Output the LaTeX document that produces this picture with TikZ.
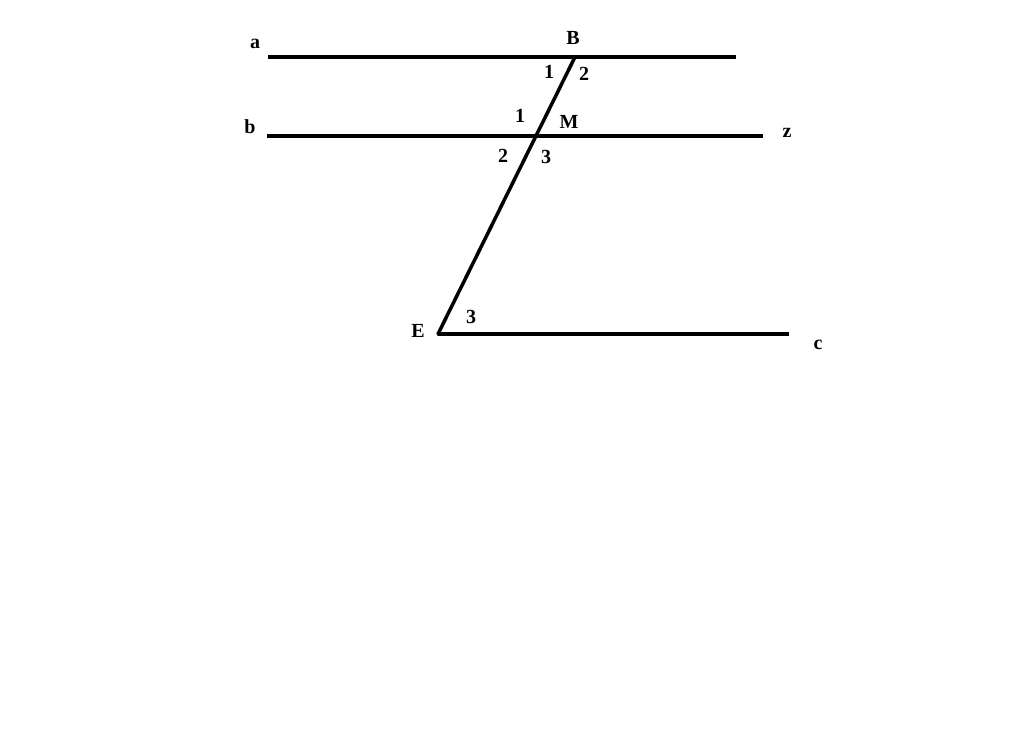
\documentclass[tikz,border=0pt]{standalone}
\usepackage{fontspec}
\setmainfont{Liberation Serif}
\usetikzlibrary{calc}
\tikzset{
    ln/.style={line width=3.5pt},
    lbl/.style={font=\fontsize{20}{20}\selectfont\bfseries, inner sep=0pt}
}
\begin{document}
\begin{tikzpicture}[x=1pt, y=-1pt]
        \useasboundingbox (0,0) rectangle (1024,754);
        % points
        \coordinate (a0) at (268,57);
        \coordinate (a1) at (736,57);
        \coordinate (b0) at (267,136);
        \coordinate (b1) at (763,136);
        \coordinate (c1) at (789,334);
        \coordinate (B) at (575,57);
        \coordinate (E) at (438,334);
        \coordinate (M) at ($(B)!0.2852!(E)$);
        % lines
        \draw[ln] (a0) -- (a1);
        \draw[ln] (b0) -- (b1);
        \draw[ln] (E) -- (c1);
        \draw[ln, line cap=round] (B) -- (E);
        % labels
        \node[lbl] (la) at (255,44) {a};
        \node[lbl] (lB) at (573,38) {B};
        \node[lbl] (lB1) at (549,72) {1};
        \node[lbl] (lB2) at (584,74) {2};
        \node[lbl] (lb) at (250,127) {b};
        \node[lbl] (lM1) at (520,116) {1};
        \node[lbl] (lM) at (569,122) {M};
        \node[lbl] (lz) at (787,133) {z};
        \node[lbl] (lM2) at (503,156) {2};
        \node[lbl] (lM3) at (546,157) {3};
        \node[lbl] (lE) at (418,331) {E};
        \node[lbl] (lE3) at (471,317) {3};
        \node[lbl] (lc) at (818,345) {c};
\end{tikzpicture}
\end{document}
